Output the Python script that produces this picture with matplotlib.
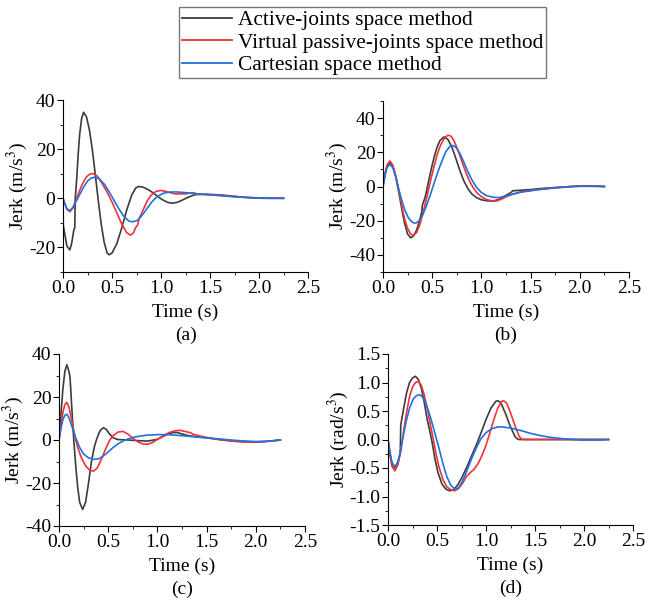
import matplotlib
matplotlib.use("Agg")
import matplotlib.pyplot as plt
from matplotlib.ticker import MultipleLocator, AutoMinorLocator, FormatStrFormatter
from matplotlib.lines import Line2D

plt.rcParams['font.family'] = ['Liberation Serif', 'DejaVu Serif']
plt.rcParams['mathtext.fontset'] = 'stix'

labels = ["Active-joints space method",
          "Virtual passive-joints space method",
          "Cartesian space method"]
colors = ["#3c3c3c", "#ee3338", "#1f72de"]

# ---- panel (a) ----
ta_act = [0, 0.003, 0.02, 0.04, 0.07, 0.09, 0.11, 0.115, 0.12, 0.125, 0.14, 0.155, 0.17, 0.19, 0.21,
          0.24, 0.27, 0.30, 0.33, 0.36, 0.39, 0.42, 0.45, 0.47, 0.50, 0.55, 0.60, 0.65, 0.70, 0.74, 0.77,
          0.82, 0.87, 0.92, 0.97, 1.02, 1.07, 1.12, 1.17, 1.22, 1.27, 1.32, 1.35, 1.45, 1.55, 1.65, 1.75,
          1.85, 1.95, 2.05, 2.25]
ya_act = [0, -11, -15, -19.5, -21, -18, -13, -12.5, -12, 0, 8, 18, 26, 32.5, 35,
          33.1, 27.7, 19.6, 9.5, -1, -10.5, -17.9, -22.2, -23, -22.3, -18.4, -12, -4.8, 1.2, 4.1, 4.8,
          4.5, 3.5, 2.2, 0.6, -0.7, -1.7, -2, -1.6, -0.7, 0.3, 1.1, 1.5, 1.6, 1.5, 1.2, 0.8,
          0.4, 0.1, 0, 0]
ta_vir = [0, 0.02, 0.04, 0.07, 0.10, 0.13, 0.16, 0.20, 0.24, 0.28, 0.31, 0.35, 0.40, 0.45, 0.50, 0.55,
          0.60, 0.65, 0.69, 0.72, 0.74, 0.76, 0.78, 0.82, 0.86, 0.90, 0.95, 1.00, 1.05, 1.10, 1.15, 1.25,
          1.33, 1.36, 1.45, 1.6, 1.75, 1.9, 2.05, 2.25]
ya_vir = [0, -2.5, -4.5, -5.5, -4, -1, 2.2, 6, 8.8, 10, 10, 9, 6, 2.5, -1.5, -6,
          -10.5, -14, -15, -14, -12, -11, -8, -4.5, -1, 1.3, 2.8, 3.2, 2.8, 2.2, 1.8, 1.8,
          2.3, 1.8, 1.6, 1.2, 0.7, 0.3, 0.1, 0]
ta_car = [0, 0.02, 0.04, 0.07, 0.10, 0.13, 0.17, 0.21, 0.25, 0.29, 0.33, 0.37, 0.42, 0.47, 0.52, 0.57,
          0.62, 0.67, 0.71, 0.76, 0.81, 0.86, 0.91, 0.96, 1.02, 1.08, 1.15, 1.25, 1.35, 1.5, 1.65, 1.8,
          1.95, 2.1, 2.25]
ya_car = [0, -2.3, -4.2, -5, -3.8, -1.5, 1.5, 4.5, 7, 8.3, 8.6, 8, 5.8, 2.7, -0.8, -4.3,
          -7.3, -9.2, -9.6, -9, -6.8, -4, -1.3, 0.7, 2, 2.5, 2.6, 2.3, 1.9, 1.4, 0.9, 0.5,
          0.2, 0, 0]

# ---- panel (b) ----
tb_act = [0, 0.02, 0.04, 0.07, 0.10, 0.13, 0.16, 0.19, 0.22, 0.25, 0.28, 0.31, 0.34, 0.37, 0.395, 0.40,
          0.43, 0.46, 0.49, 0.52, 0.55, 0.58, 0.62, 0.66, 0.70, 0.74, 0.78, 0.82, 0.86, 0.90, 0.95,
          1.00, 1.06, 1.12, 1.18, 1.24, 1.30, 1.32, 1.40, 1.5, 1.6, 1.7, 1.8, 1.9, 2.0, 2.1, 2.2, 2.25]
yb_act = [0, 7, 11.5, 14, 11.8, 5.7, -3.1, -12.9, -21.7, -27.8, -30, -28.9, -25.7, -20.4, -14.5, -11,
          -5.9, 2.2, 10.2, 17.2, 23.1, 27, 29, 27.5, 23, 16.5, 9.5, 3.5, -1, -4.2, -6.5,
          -7.8, -8.4, -8.5, -7.5, -5.5, -3.5, -2.5, -2.2, -1.8, -1.2, -0.8, -0.4, 0, 0.3, 0.4, 0.2, 0]
tb_vir = [0, 0.02, 0.04, 0.07, 0.10, 0.13, 0.16, 0.19, 0.22, 0.25, 0.28, 0.31, 0.34, 0.37, 0.40, 0.43,
          0.46, 0.49, 0.52, 0.55, 0.58, 0.62, 0.66, 0.69, 0.72, 0.76, 0.80, 0.84, 0.88, 0.92, 0.96,
          1.00, 1.05, 1.10, 1.15, 1.20, 1.26, 1.32, 1.40, 1.5, 1.6, 1.7, 1.8, 1.9, 2.0, 2.1, 2.25]
yb_vir = [0, 7.5, 12.5, 15, 12.5, 6, -2.5, -11, -19, -24.5, -27.8, -28.5, -27, -23, -17, -10,
          -2.5, 5, 12, 18.5, 23.5, 28, 30, 29.5, 27, 21.5, 15, 8.5, 3, -1, -4,
          -6, -7.6, -8.3, -8.5, -7.5, -5.8, -4.5, -3.2, -2.3, -1.6, -1, -0.5, -0.1, 0.2, 0.3, 0]
tb_car = [0, 0.02, 0.04, 0.07, 0.10, 0.13, 0.16, 0.19, 0.22, 0.26, 0.30, 0.33, 0.36, 0.40, 0.44, 0.48,
          0.52, 0.56, 0.60, 0.64, 0.68, 0.71, 0.74, 0.78, 0.82, 0.86, 0.90, 0.95, 1.00, 1.05, 1.12,
          1.18, 1.25, 1.32, 1.40, 1.5, 1.6, 1.7, 1.8, 1.9, 2.0, 2.25]
yb_car = [0, 6.5, 11, 13, 11, 5.5, -1.5, -8, -13.5, -18.5, -21, -21.5, -20.5, -17, -11.5, -5,
          2, 9, 15, 20.5, 23.5, 24, 23, 19.5, 14.5, 9, 4.2, -0.5, -3.5, -5.3, -6.3,
          -6.5, -5.5, -4.4, -3.3, -2.5, -1.7, -1.1, -0.6, -0.2, 0.1, 0]

# ---- panel (c) ----
tc_act = [0, 0.02, 0.04, 0.06, 0.08, 0.10, 0.11, 0.115, 0.13, 0.15, 0.17, 0.19, 0.21, 0.24, 0.27, 0.30,
          0.33, 0.36, 0.38, 0.40, 0.42, 0.45, 0.48, 0.51, 0.55, 0.60, 0.70, 0.80, 0.90, 1.00, 1.08,
          1.15, 1.20, 1.25, 1.32, 1.40, 1.50, 1.60, 1.70, 1.80, 1.90, 2.00, 2.10, 2.20, 2.25]
yc_act = [0, 12, 24, 32, 35, 32, 30, 27, 15, 0, -12, -22, -29, -32.3, -29, -20,
          -10, -3, 0, 2.5, 4.5, 5.7, 5, 3, 1, 0.2, 0, -0.3, -0.5, 0.3, 2.2,
          3.4, 3.5, 2.8, 2, 1.5, 1, 0.4, -0.1, -0.5, -0.8, -0.9, -0.7, -0.2, 0]
tc_vir = [0, 0.02, 0.04, 0.06, 0.08, 0.10, 0.13, 0.16, 0.19, 0.23, 0.27, 0.31, 0.35, 0.39, 0.43, 0.47,
          0.51, 0.55, 0.60, 0.65, 0.70, 0.75, 0.80, 0.85, 0.90, 0.95, 1.00, 1.06, 1.12, 1.18, 1.23,
          1.28, 1.34, 1.36, 1.45, 1.55, 1.65, 1.75, 1.85, 1.95, 2.05, 2.15, 2.25]
yc_vir = [0, 7, 13, 16.5, 17.5, 15.5, 9, 2, -3.5, -8.5, -12, -14, -14.5, -13, -9, -4.5,
          -0.5, 2, 3.7, 4, 2.8, 0.8, -0.8, -1.8, -2, -1.2, 0.3, 2, 3.5, 4.3, 4.5,
          4, 3.3, 2.7, 1.7, 0.8, 0, -0.5, -0.9, -1, -0.9, -0.5, 0]
tc_car = [0, 0.02, 0.04, 0.06, 0.08, 0.10, 0.13, 0.17, 0.21, 0.25, 0.30, 0.35, 0.40, 0.45, 0.50, 0.55,
          0.60, 0.65, 0.70, 0.78, 0.88, 1.00, 1.10, 1.20, 1.30, 1.40, 1.50, 1.60, 1.70, 1.80, 1.90,
          2.00, 2.10, 2.20, 2.25]
yc_car = [0, 5.5, 9.5, 11.5, 12, 10.5, 6.5, 1, -3.5, -6.5, -8.3, -9, -8.8, -7.5, -5.5, -3.5,
          -1.8, -0.5, 0.5, 1.5, 2.2, 2.5, 2.5, 2.2, 1.8, 1.4, 1, 0.6, 0.2, -0.2, -0.5,
          -0.7, -0.6, -0.3, 0]

# ---- panel (d) ----
td_act = [0, 0.02, 0.04, 0.07, 0.10, 0.12, 0.125, 0.13, 0.16, 0.19, 0.22, 0.25, 0.28, 0.31, 0.34, 0.37,
          0.40, 0.42, 0.45, 0.48, 0.51, 0.55, 0.59, 0.63, 0.67, 0.71, 0.75, 0.80, 0.85, 0.90, 0.95,
          1.00, 1.05, 1.10, 1.12, 1.15, 1.20, 1.25, 1.30, 1.33, 2.25]
yd_act = [0, -0.25, -0.42, -0.5, -0.4, -0.28, -0.25, 0.25, 0.55, 0.82, 1.0, 1.08, 1.11, 1.05, 0.9, 0.65,
          0.35, 0.2, -0.05, -0.35, -0.58, -0.78, -0.87, -0.9, -0.88, -0.8, -0.68, -0.5, -0.3, -0.1, 0.12,
          0.35, 0.55, 0.67, 0.68, 0.65, 0.45, 0.22, 0.04, 0, 0]
td_vir = [0, 0.02, 0.04, 0.07, 0.10, 0.13, 0.16, 0.19, 0.22, 0.25, 0.28, 0.31, 0.34, 0.37, 0.40, 0.43,
          0.46, 0.49, 0.52, 0.56, 0.60, 0.64, 0.68, 0.72, 0.76, 0.80, 0.84, 0.88, 0.92, 0.96, 1.00,
          1.04, 1.08, 1.12, 1.16, 1.18, 1.21, 1.25, 1.30, 1.34, 1.37, 2.25]
yd_vir = [0, -0.28, -0.47, -0.55, -0.45, -0.2, 0.15, 0.48, 0.75, 0.92, 1.0, 1.02, 0.95, 0.78, 0.55, 0.28,
          0.02, -0.25, -0.48, -0.7, -0.83, -0.88, -0.9, -0.86, -0.77, -0.65, -0.58, -0.52, -0.42, -0.28, -0.1,
          0.12, 0.35, 0.55, 0.67, 0.68, 0.64, 0.47, 0.22, 0.05, 0, 0]
td_car = [0, 0.02, 0.04, 0.07, 0.10, 0.13, 0.16, 0.19, 0.22, 0.26, 0.30, 0.33, 0.36, 0.40, 0.44, 0.48,
          0.52, 0.56, 0.60, 0.64, 0.68, 0.72, 0.76, 0.80, 0.85, 0.90, 0.95, 1.00, 1.06, 1.12, 1.17,
          1.25, 1.35, 1.45, 1.55, 1.65, 1.75, 1.85, 2.0, 2.15, 2.25]
yd_car = [0, -0.22, -0.4, -0.48, -0.4, -0.18, 0.1, 0.35, 0.55, 0.72, 0.78, 0.78, 0.73, 0.57, 0.35, 0.1,
          -0.15, -0.42, -0.65, -0.8, -0.87, -0.85, -0.73, -0.57, -0.35, -0.15, 0.02, 0.12, 0.19, 0.22, 0.22,
          0.2, 0.16, 0.11, 0.07, 0.04, 0.02, 0.005, -0.01, -0.01, 0]

panels = [
    ("(a)", [(ta_act, ya_act), (ta_vir, ya_vir), (ta_car, ya_car)], (-30, 40), 20, r"Jerk (m/s$^3$)",
     [63, 100, 245, 172]),
    ("(b)", [(tb_act, yb_act), (tb_vir, yb_vir), (tb_car, yb_car)], (-50, 50), 20, r"Jerk (m/s$^3$)",
     [383, 101, 246, 171]),
    ("(c)", [(tc_act, yc_act), (tc_vir, yc_vir), (tc_car, yc_car)], (-40, 40), 20, r"Jerk (m/s$^3$)",
     [59, 354, 246, 172]),
    ("(d)", [(td_act, yd_act), (td_vir, yd_vir), (td_car, yd_car)], (-1.5, 1.5), 0.5, r"Jerk (rad/s$^3$)",
     [388, 354, 245, 171]),
]

W, H = 645, 601
fig = plt.figure(figsize=(W / 100, H / 100), dpi=100)

fs = 14
for tag, series, ylim, ystep, ylab, box in panels:
    x0, y0, w, h = box
    ax = fig.add_axes([x0 / W, 1 - (y0 + h) / H, w / W, h / H])
    for (t, y), c in zip(series, colors):
        ax.plot(t, y, color=c, lw=1.2)
    ax.set_xlim(0, 2.5)
    ax.set_ylim(*ylim)
    ax.xaxis.set_major_locator(MultipleLocator(0.5))
    ax.xaxis.set_minor_locator(AutoMinorLocator(2))
    ax.yaxis.set_major_locator(MultipleLocator(ystep))
    ax.yaxis.set_minor_locator(AutoMinorLocator(2))
    ax.yaxis.set_major_formatter(FormatStrFormatter('%.1f' if ystep < 1 else '%d'))
    ax.xaxis.set_major_formatter(FormatStrFormatter('%.1f'))
    for s in ["top", "right"]:
        ax.spines[s].set_visible(False)
    for s in ["left", "bottom"]:
        ax.spines[s].set_linewidth(0.8)
    ax.tick_params(which="major", direction="out", length=4, width=0.8, labelsize=fs, pad=1.5)
    ax.tick_params(which="minor", direction="out", length=2, width=0.6)
    ax.set_xlabel("Time (s)", fontsize=fs, labelpad=5)
    ax.set_ylabel(ylab, fontsize=fs, labelpad=-1)
    ax.text(0.5, -0.37, tag, transform=ax.transAxes, ha="center", va="center", fontsize=fs)

handles = [Line2D([], [], color=c, lw=1.3) for c in colors]
leg = fig.legend(handles, labels, loc="upper left", bbox_to_anchor=(179 / W, 1 - 7 / H),
                 fontsize=15.4, frameon=True, fancybox=False, edgecolor="#555555",
                 handlelength=2.35, handletextpad=0.25, borderpad=0.15, labelspacing=0.12,
                 borderaxespad=0, handleheight=0.7)
leg.get_frame().set_linewidth(1.0)

fig.savefig("out.png", dpi=100)
